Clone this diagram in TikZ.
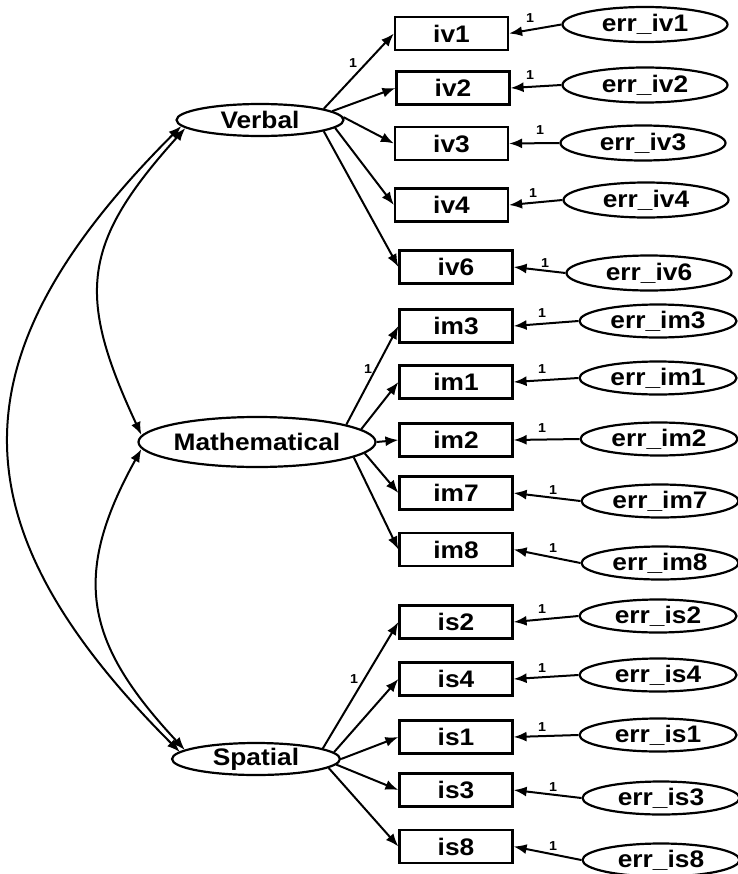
\documentclass[tikz,border=0pt]{standalone}
\usepackage{fontspec}
\setmainfont{Liberation Sans}[FakeStretch=1.1]
\usetikzlibrary{shapes.geometric,arrows.meta}
\begin{document}
\begin{tikzpicture}[x=1bp,y=-1bp,
  every node/.style={font=\bfseries\fontsize{24}{26}\selectfont},
  obs/.style={draw, line width=2.2bp, rectangle, minimum width=113bp, minimum height=33bp, inner sep=0pt},
  lat/.style={draw, line width=2.2bp, ellipse, inner sep=0pt},
  errv/.style={lat, minimum width=165bp, minimum height=35bp},
  errm/.style={lat, minimum width=157bp, minimum height=33bp},
  one/.style={font=\bfseries\fontsize{13}{13}\selectfont, inner sep=0pt},
  load/.style={line width=2bp, -{Latex[length=13bp,width=10bp]}},
  covarr/.style={line width=2bp, {Latex[length=13bp,width=10bp]}-{Latex[length=13bp,width=10bp]}},
]
\useasboundingbox (0,0) rectangle (738,874);

% latent variables
\node[lat, minimum width=167bp, minimum height=32bp] (V) at (260,120) {\makebox[0pt]{Verbal}};
\node[lat, minimum width=237bp, minimum height=50bp] (M) at (257,442) {\makebox[0pt]{Mathematical}};
\node[lat, minimum width=168bp, minimum height=32bp] (S) at (256,759) {\makebox[0pt]{Spatial}};

% observed boxes
\node[obs] (iv1) at (451.5,33.5) {iv1};
\node[obs] (iv2) at (453,88) {iv2};
\node[obs] (iv3) at (451.5,143.5) {iv3};
\node[obs] (iv4) at (451.5,205) {iv4};
\node[obs] (iv6) at (456,267) {iv6};
\node[obs] (im3) at (456,326) {im3};
\node[obs] (im1) at (456,382) {im1};
\node[obs] (im2) at (456,440) {im2};
\node[obs] (im7) at (456,493) {im7};
\node[obs] (im8) at (456,549.5) {im8};
\node[obs] (is2) at (456,622) {is2};
\node[obs] (is4) at (456,679) {is4};
\node[obs] (is1) at (456,737) {is1};
\node[obs] (is3) at (456,790) {is3};
\node[obs] (is8) at (456,846.5) {is8};

% error terms
\node[errv] (eiv1) at (645,24.5) {\makebox[0pt]{err\_iv1}};
\node[errv] (eiv2) at (645,85) {\makebox[0pt]{err\_iv2}};
\node[errv] (eiv3) at (643,143) {\makebox[0pt]{err\_iv3}};
\node[errv] (eiv4) at (646,200) {\makebox[0pt]{err\_iv4}};
\node[errv] (eiv6) at (649,273) {\makebox[0pt]{err\_iv6}};
\node[errm] (eim3) at (658,321) {\makebox[0pt]{err\_im3}};
\node[errm] (eim1) at (658,378) {\makebox[0pt]{err\_im1}};
\node[errm] (eim2) at (659,439) {\makebox[0pt]{err\_im2}};
\node[errm] (eim7) at (660,501) {\makebox[0pt]{err\_im7}};
\node[errm] (eim8) at (660,563) {\makebox[0pt]{err\_im8}};
\node[errm] (eis2) at (658,616) {\makebox[0pt]{err\_is2}};
\node[errm] (eis4) at (658,675) {\makebox[0pt]{err\_is4}};
\node[errm] (eis1) at (658,735) {\makebox[0pt]{err\_is1}};
\node[errm] (eis3) at (661,798) {\makebox[0pt]{err\_is3}};
\node[errm] (eis8) at (661,860) {\makebox[0pt]{err\_is8}};

% loadings
\draw[load] (V.10) -- (iv1.west);
\draw[load] (V.7) -- (iv2.west);
\draw[load] (V.2) -- (iv3.west);
\draw[load] (V.-6) -- (iv4.west);
\draw[load] (V.-10) -- (iv6.west);
\draw[load] (M.11) -- (im3.west);
\draw[load] (M.7) -- (im1.west);
\draw[load] (M.east) -- (im2.west);
\draw[load] (M.-6) -- (im7.west);
\draw[load] (M.-9) -- (im8.west);
\draw[load] (S.9) -- (is2.west);
\draw[load] (S.5) -- (is4.west);
\draw[load] (S.east) -- (is1.west);
\draw[load] (S.-4) -- (is3.west);
\draw[load] (S.-7) -- (is8.west);

% error paths
\foreach \v in {iv1,iv2,iv3,iv4,iv6,im3,im1,im2,im7,im8,is2,is4,is1,is3,is8}
  \draw[load] (e\v.west) -- (\v.east);

% covariances
\draw[covarr] ([xshift=6bp,yshift=-6bp]V.west) to[out=225,in=135,looseness=1.32] ([xshift=9bp,yshift=7bp]S.west);
\draw[covarr] ([xshift=10bp,yshift=-8bp]V.west) to[out=228,in=115,looseness=1.28] ([xshift=4bp,yshift=7bp]M.west);
\draw[covarr] ([xshift=4bp,yshift=-7bp]M.west) to[out=241,in=133,looseness=1.23] ([xshift=14bp,yshift=9bp]S.west);

% fixed loading labels
\node[one] (lv) at (353,63) {1};
\node[one] (lm) at (368,369) {1};
\node[one] (ls) at (354,679) {1};

% error labels
\node[one] (o1) at (530,18) {1};
\node[one] (o2) at (530,75) {1};
\node[one] (o3) at (540,130) {1};
\node[one] (o4) at (533,193) {1};
\node[one] (o5) at (545,263) {1};
\node[one] (o6) at (542,313) {1};
\node[one] (o7) at (542,369) {1};
\node[one] (o8) at (542,428) {1};
\node[one] (o9) at (553,490) {1};
\node[one] (o10) at (553,548) {1};
\node[one] (o11) at (542,609) {1};
\node[one] (o12) at (542,668) {1};
\node[one] (o13) at (542,727) {1};
\node[one] (o14) at (553,787) {1};
\node[one] (o15) at (553,846) {1};
\end{tikzpicture}
\end{document}
